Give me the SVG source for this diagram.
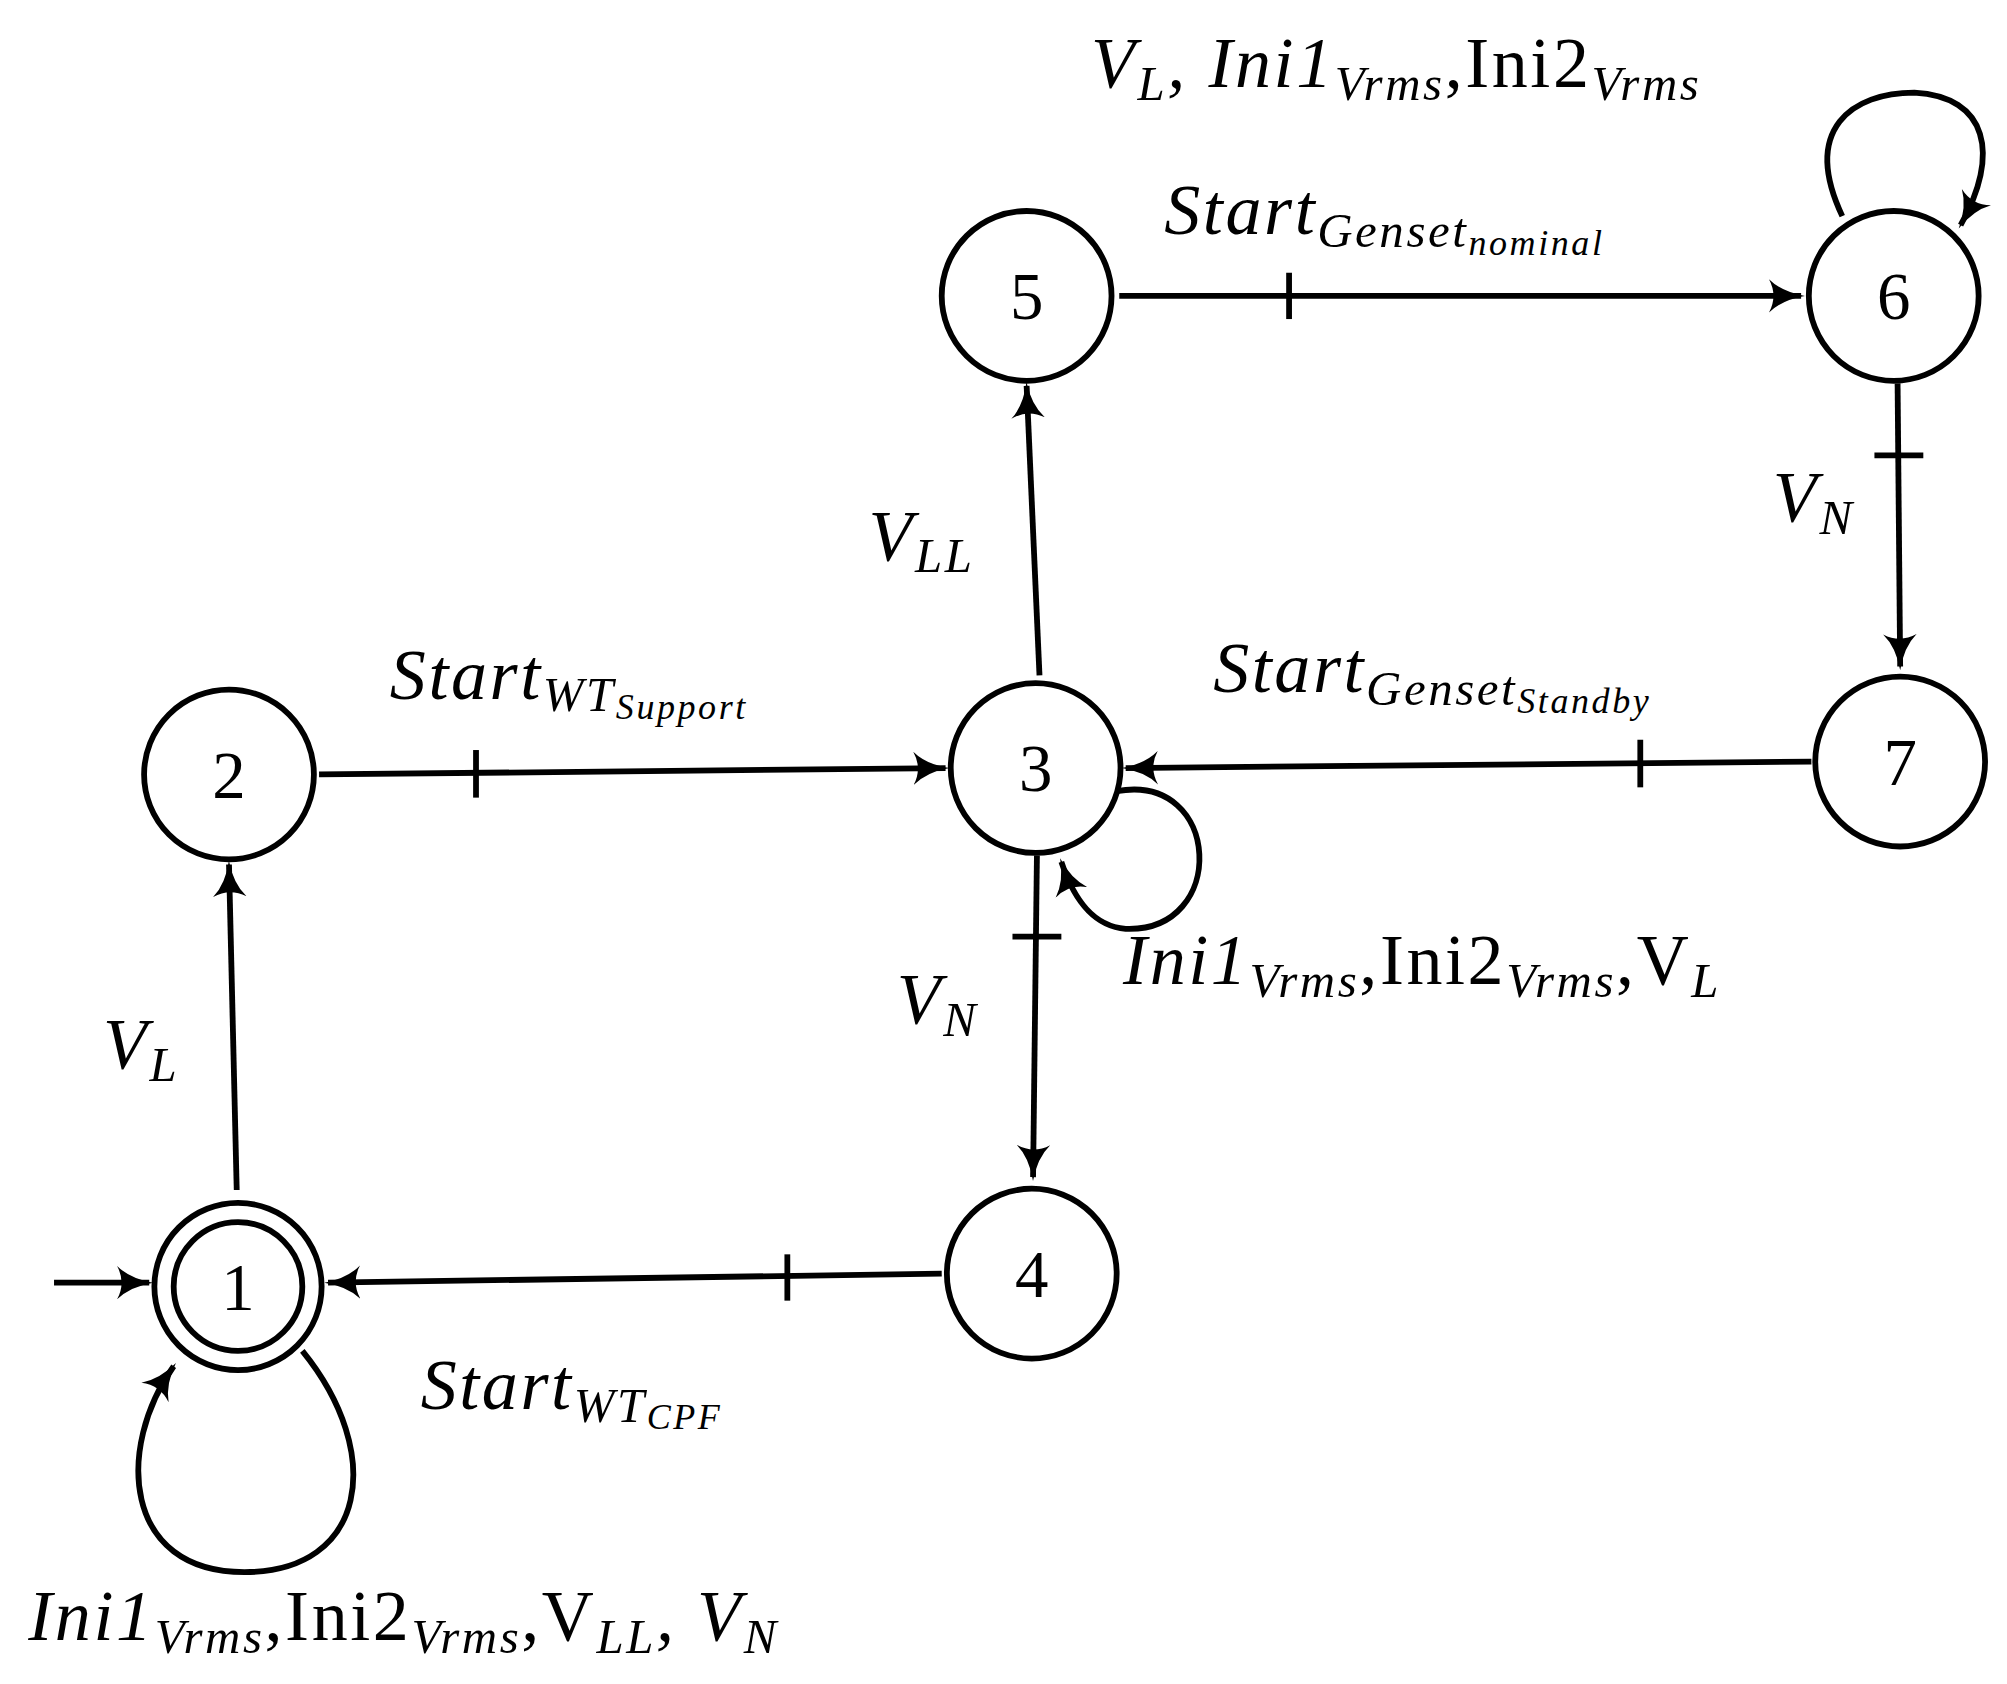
<svg xmlns="http://www.w3.org/2000/svg" width="2007" height="1684" viewBox="0 0 2007 1684">
<style>
.n{fill:#fff;stroke:#000;stroke-width:4.5}
.e{fill:none;stroke:#000;stroke-width:4.5}
.t{font-family:"Liberation Serif",serif;font-size:52px;text-anchor:middle}
.l{font-family:"Liberation Serif",serif;font-size:56px;font-style:italic;letter-spacing:2px}
.s{font-size:38px}
.ss{font-size:28px}
.u{font-style:normal}
</style>
<defs>
<marker id="b" markerWidth="30" markerHeight="30" refX="25" refY="15" orient="auto" markerUnits="userSpaceOnUse" viewBox="0 0 30 30"><path d="M0,2 Q10,12 28,15 Q10,18 0,28 Q7,15 0,2z" fill="#000"/></marker></defs>
<g transform="scale(1.2865)">
<g id="edges">
<path class="e" d="M42,997 L116,997" marker-end="url(#b)"/>
<path class="e" d="M184,925 L178,672" marker-end="url(#b)"/>
<path class="e" d="M248,602 L735,597" marker-end="url(#b)"/><path class="e" d="M370,583 V620"/>
<path class="e" d="M808,525 L798,300" marker-end="url(#b)"/>
<path class="e" d="M870,230 L1400,230" marker-end="url(#b)"/><path class="e" d="M1002,212 V248"/>
<path class="e" d="M1475,298 L1477,518" marker-end="url(#b)"/><path class="e" d="M1457,354 H1495"/>
<path class="e" d="M1408,592 L875,597" marker-end="url(#b)"/><path class="e" d="M1275,575 V612"/>
<path class="e" d="M806,665 L803,915" marker-end="url(#b)"/><path class="e" d="M787,728 H825"/>
<path class="e" d="M732,990 L255,997" marker-end="url(#b)"/><path class="e" d="M612,975 V1011"/>
<path class="e" d="M235,1050 C300,1130 285,1222 190,1222 C95,1222 90,1125 135,1062" marker-end="url(#b)"/>
<path class="e" d="M868,615 C950,600 955,725 875,722 C850,720 835,700 825,670" marker-end="url(#b)"/>
<path class="e" d="M1432,168 C1400,100 1440,72 1488,72 C1545,75 1555,120 1524,175" marker-end="url(#b)"/>
</g>
<g id="n1"><circle class="n" cx="185" cy="1000" r="65"/><circle class="n" cx="185" cy="1000" r="50"/><text class="t" x="185" y="1018">1</text></g>
<g id="n2"><circle class="n" cx="178" cy="602" r="66"/><text class="t" x="178" y="620">2</text></g>
<g id="n3"><circle class="n" cx="805" cy="597" r="66"/><text class="t" x="805" y="615">3</text></g>
<g id="n4"><circle class="n" cx="802" cy="990" r="66"/><text class="t" x="802" y="1008">4</text></g>
<g id="n5"><circle class="n" cx="798" cy="230" r="66"/><text class="t" x="798" y="248">5</text></g>
<g id="n6"><circle class="n" cx="1472" cy="230" r="66"/><text class="t" x="1472" y="248">6</text></g>
<g id="n7"><circle class="n" cx="1477" cy="592" r="66"/><text class="t" x="1477" y="610">7</text></g>
<g id="labels">
<text class="l" x="80" y="830">V<tspan class="s" dy="10">L</tspan></text>
<text class="l" x="303" y="543">Start<tspan class="s" dy="10">WT</tspan><tspan class="ss" dy="6">Support</tspan></text>
<text class="l" x="675" y="435">V<tspan class="s" dy="10">LL</tspan></text>
<text class="l" x="905" y="182">Start<tspan class="s" dy="10">Genset</tspan><tspan class="ss" dy="6">nominal</tspan></text>
<text class="l" x="1378" y="405">V<tspan class="s" dy="10">N</tspan></text>
<text class="l" x="943" y="538">Start<tspan class="s" dy="10">Genset</tspan><tspan class="ss" dy="6">Standby</tspan></text>
<text class="l" x="697" y="795">V<tspan class="s" dy="10">N</tspan></text>
<text class="l" x="327" y="1095">Start<tspan class="s" dy="10">WT</tspan><tspan class="ss" dy="6">CPF</tspan></text>
<text class="l" x="873" y="765">Ini1<tspan class="s" dy="10">Vrms</tspan><tspan class="u" dy="-10">,Ini2</tspan><tspan class="s" dy="10">Vrms</tspan><tspan class="u" dy="-10">,V</tspan><tspan class="s" dy="10">L</tspan></text>
<text class="l" x="22" y="1275">Ini1<tspan class="s" dy="10">Vrms</tspan><tspan class="u" dy="-10">,Ini2</tspan><tspan class="s" dy="10">Vrms</tspan><tspan class="u" dy="-10">,V</tspan><tspan class="s" dy="10">LL</tspan><tspan dy="-10">, V</tspan><tspan class="s" dy="10">N</tspan></text>
<text class="l" x="848" y="68">V<tspan class="s" dy="10">L</tspan><tspan dy="-10">, Ini1</tspan><tspan class="s" dy="10">Vrms</tspan><tspan class="u" dy="-10">,Ini2</tspan><tspan class="s" dy="10">Vrms</tspan></text>
</g>
</g>
</svg>
